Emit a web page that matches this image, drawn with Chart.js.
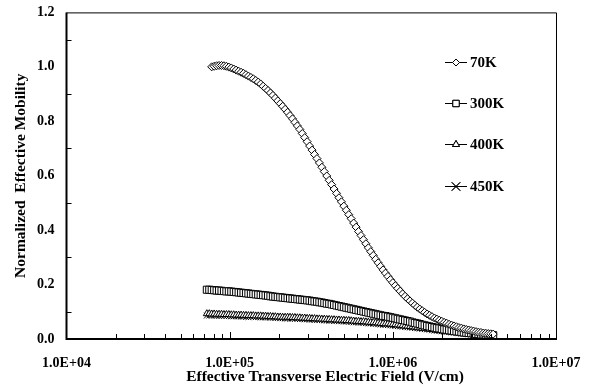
<!DOCTYPE html>
<html>
<head>
<meta charset="utf-8">
<script src="https://cdn.jsdelivr.net/npm/chart.js@4.4.1/dist/chart.umd.min.js"></script>
<style>
  html, body { margin: 0; padding: 0; background: #fff; }
  #wrap { width: 595px; height: 389px; }
</style>
</head>
<body>
<div id="wrap"><canvas id="chart"></canvas></div>
<script>
// effective transverse electric field (V/cm)
const fieldStrength = [
  72440, 74990, 77620, 80350, 83180, 86100, 89130, 92260, 95500, 98860,
  102300, 105900, 109600, 113500, 117500, 121600, 125900, 130300, 134900, 139600,
  144500, 149600, 154900, 160300, 166000, 171800, 177800, 184100, 190500, 197200,
  204200, 211300, 218800, 226500, 234400, 242700, 251200, 260000, 269200, 278600,
  288400, 298500, 309000, 319900, 331100, 342800, 354800, 367300, 380200, 393600,
  407400, 421700, 436500, 451900, 467700, 484200, 501200, 518800, 537000, 555900,
  575400, 595700, 616600, 638300, 660700, 683900, 707900, 732800, 758600, 785200,
  812800, 841400, 871000, 901600, 933300, 966100, 1000000, 1035100, 1071500, 1109200,
  1148200, 1188500, 1230300, 1273500, 1318300, 1364600, 1412500, 1462200, 1513600, 1566800,
  1621800, 1678800, 1737800, 1798900, 1862100, 1927500, 1995300, 2065400, 2138000, 2213100,
  2290900, 2371400, 2454700, 2541000, 2630300, 2722700, 2818400, 2917400, 3020000, 3126100,
  3235900, 3349700, 3467400, 3589200, 3715400, 3845900, 3981100, 4121000
];

// normalized effective mobility
const mob70K = [
  null, null, 1.000, 1.002, 1.004, 1.005, 1.005, 1.004, 1.002, 0.999,
  0.996, 0.992, 0.988, 0.984, 0.980, 0.976, 0.971, 0.966, 0.961, 0.956,
  0.950, 0.944, 0.937, 0.929, 0.921, 0.913, 0.904, 0.895, 0.885, 0.875,
  0.865, 0.855, 0.844, 0.833, 0.821, 0.809, 0.796, 0.783, 0.770, 0.755,
  0.740, 0.725, 0.709, 0.694, 0.678, 0.663, 0.647, 0.631, 0.615, 0.599,
  0.583, 0.567, 0.551, 0.535, 0.519, 0.504, 0.488, 0.473, 0.457, 0.442,
  0.426, 0.411, 0.395, 0.380, 0.365, 0.350, 0.335, 0.321, 0.307, 0.293,
  0.280, 0.267, 0.254, 0.242, 0.230, 0.218, 0.207, 0.196, 0.186, 0.176,
  0.166, 0.157, 0.148, 0.140, 0.132, 0.124, 0.117, 0.110, 0.104, 0.098,
  0.092, 0.087, 0.082, 0.077, 0.073, 0.069, 0.065, 0.061, 0.058, 0.054,
  0.051, 0.048, 0.045, 0.042, 0.040, 0.037, 0.035, 0.033, 0.031, 0.029,
  0.027, 0.025, 0.024, 0.022, 0.021, 0.020, 0.019, 0.018
];
const mob300K = [
  0.181, 0.181, 0.180, 0.179, 0.178, 0.178, 0.177, 0.176, 0.175, 0.175,
  0.174, 0.173, 0.172, 0.171, 0.170, 0.169, 0.168, 0.167, 0.166, 0.165,
  0.164, 0.163, 0.162, 0.161, 0.160, 0.159, 0.157, 0.156, 0.155, 0.154,
  0.153, 0.152, 0.151, 0.150, 0.149, 0.148, 0.147, 0.146, 0.145, 0.144,
  0.143, 0.142, 0.141, 0.139, 0.138, 0.137, 0.135, 0.134, 0.132, 0.130,
  0.129, 0.127, 0.125, 0.123, 0.121, 0.119, 0.117, 0.115, 0.113, 0.111,
  0.109, 0.107, 0.105, 0.103, 0.101, 0.099, 0.097, 0.095, 0.093, 0.091,
  0.089, 0.087, 0.085, 0.084, 0.082, 0.080, 0.078, 0.076, 0.074, 0.072,
  0.070, 0.068, 0.066, 0.064, 0.061, 0.059, 0.057, 0.055, 0.052, 0.050,
  0.048, 0.046, 0.044, 0.042, 0.040, 0.039, 0.037, 0.035, 0.034, 0.032,
  0.031, 0.029, 0.028, 0.027, 0.025, 0.024, 0.023, 0.022, 0.021, 0.020,
  0.019, 0.018, 0.017, 0.017, 0.016, 0.016, 0.015, 0.014
];
const mob400K = [
  0.093, 0.093, 0.092, 0.092, 0.091, 0.091, 0.091, 0.090, 0.090, 0.090,
  0.089, 0.089, 0.088, 0.088, 0.088, 0.087, 0.087, 0.086, 0.086, 0.086,
  0.085, 0.085, 0.085, 0.084, 0.084, 0.083, 0.083, 0.082, 0.082, 0.081,
  0.081, 0.080, 0.080, 0.080, 0.080, 0.079, 0.079, 0.078, 0.078, 0.077,
  0.077, 0.076, 0.076, 0.075, 0.075, 0.074, 0.074, 0.073, 0.073, 0.072,
  0.072, 0.071, 0.071, 0.070, 0.070, 0.069, 0.069, 0.068, 0.068, 0.067,
  0.066, 0.065, 0.065, 0.064, 0.064, 0.063, 0.062, 0.061, 0.061, 0.060,
  0.059, 0.058, 0.057, 0.056, 0.056, 0.055, 0.054, 0.053, 0.052, 0.051,
  0.050, 0.048, 0.047, 0.046, 0.045, 0.044, 0.043, 0.041, 0.040, 0.039,
  0.038, 0.036, 0.035, 0.034, 0.033, 0.031, 0.030, 0.029, 0.028, 0.027,
  0.026, 0.025, 0.024, 0.023, 0.022, 0.021, 0.020, 0.019, 0.018, 0.017,
  0.016, 0.016, 0.015, 0.015, 0.014, 0.014, 0.013, 0.012
];
const mob450K = [
  0.086, 0.086, 0.086, 0.086, 0.085, 0.085, 0.085, 0.085, 0.084, 0.084,
  0.083, 0.083, 0.083, 0.083, 0.082, 0.082, 0.081, 0.081, 0.081, 0.081,
  0.080, 0.080, 0.079, 0.079, 0.079, 0.079, 0.078, 0.078, 0.077, 0.077,
  0.076, 0.076, 0.075, 0.075, 0.075, 0.075, 0.074, 0.074, 0.073, 0.073,
  0.072, 0.072, 0.071, 0.071, 0.070, 0.070, 0.069, 0.069, 0.068, 0.068,
  0.067, 0.067, 0.066, 0.066, 0.065, 0.065, 0.064, 0.064, 0.063, 0.062,
  0.061, 0.061, 0.060, 0.060, 0.059, 0.058, 0.057, 0.057, 0.056, 0.055,
  0.054, 0.053, 0.052, 0.052, 0.051, 0.050, 0.049, 0.048, 0.047, 0.046,
  0.045, 0.044, 0.043, 0.042, 0.041, 0.040, 0.039, 0.038, 0.037, 0.036,
  0.035, 0.034, 0.032, 0.031, 0.030, 0.029, 0.028, 0.027, 0.026, 0.025,
  0.024, 0.023, 0.022, 0.021, 0.020, 0.019, 0.018, 0.017, 0.016, 0.016,
  0.015, 0.015, 0.014, 0.013, 0.012, 0.012, 0.011, 0.010
];

const seriesLabels = ['70K', '300K', '400K', '450K'];
const pointStyles = ['rectRot', 'rect', 'triangle', 'crossRot'];
const pointSizes = [4, 5, 4, 4];
const legendSizes = [3.5, 4.5, 4, 6];
const seriesValues = [mob70K, mob300K, mob400K, mob450K];
const xTitle = 'Effective Transverse Electric Field (V/cm)';

const FONT = "'Liberation Serif', 'Times New Roman', serif";

function pairs(values) {
  const out = [];
  values.forEach((y, i) => {
    if (y !== null) out.push({ x: fieldStrength[i], y });
  });
  return out;
}

// inner ticks, frame, x title and legend drawn on top of the plot
const framePlugin = {
  id: 'frame',
  afterDraw(chart) {
    const ctx = chart.ctx;
    const area = chart.chartArea;
    const xs = chart.scales.x;
    const ys = chart.scales.y;
    ctx.save();
    ctx.strokeStyle = '#000';

    ctx.lineWidth = 1;
    ctx.beginPath();
    ctx.moveTo(area.left, area.top + 0.5);
    ctx.lineTo(area.right + 0.5, area.top + 0.5);
    ctx.lineTo(area.right + 0.5, area.bottom);
    ctx.stroke();

    ctx.lineWidth = 2;
    ctx.beginPath();
    ctx.moveTo(area.left, area.top);
    ctx.lineTo(area.left, area.bottom);
    ctx.lineTo(area.right + 1, area.bottom);
    ctx.stroke();

    ctx.lineWidth = 1;
    ctx.beginPath();
    for (let v = 0.1; v < 1.2; v += 0.2) {
      const py = Math.round(ys.getPixelForValue(v)) + 0.5;
      ctx.moveTo(area.left, py);
      ctx.lineTo(area.left + 5, py);
    }
    for (let d = 4; d < 7; d++) {
      for (let k = 1; k < 10; k++) {
        if (k === 1 && d === 4) continue;
        const px = Math.round(xs.getPixelForValue(k * Math.pow(10, d))) + 0.5;
        ctx.moveTo(px, area.bottom);
        ctx.lineTo(px, area.bottom - (k === 1 ? 7 : 5));
      }
    }
    ctx.stroke();

    // x axis title (sits a little right of the plot centre, as in the original)
    ctx.fillStyle = '#000';
    ctx.font = 'bold 15.5px ' + FONT;
    ctx.textAlign = 'center';
    ctx.textBaseline = 'middle';
    ctx.fillText(xTitle, 325, 377);

    // legend
    const legendY = [62, 103, 144, 186];
    chart.data.datasets.forEach((ds, i) => {
      const y = legendY[i];
      ctx.lineWidth = 1;
      ctx.strokeStyle = '#000';
      ctx.beginPath();
      ctx.moveTo(445, y + 0.5);
      ctx.lineTo(467, y + 0.5);
      ctx.stroke();
      Chart.helpers.drawPoint(ctx, {
        pointStyle: ds.pointStyle,
        radius: legendSizes[i],
        rotation: 0,
        borderWidth: 1
      }, 456, y + 0.5);
      ctx.fillStyle = '#fff';
      ctx.fill();
      ctx.stroke();
      ctx.fillStyle = '#000';
      ctx.font = 'bold 15px ' + FONT;
      ctx.textAlign = 'left';
      ctx.textBaseline = 'middle';
      ctx.fillText(ds.label, 470, y + 1);
    });
    ctx.restore();
  }
};

new Chart(document.getElementById('chart'), {
  type: 'scatter',
  data: {
    datasets: seriesValues.map((vals, i) => ({
      label: seriesLabels[i],
      data: pairs(vals),
      showLine: true,
      borderColor: '#000',
      borderWidth: 1,
      backgroundColor: '#fff',
      pointStyle: pointStyles[i],
      pointRadius: pointSizes[i],
      pointBorderColor: '#000',
      pointBackgroundColor: '#fff',
      pointBorderWidth: 1
    }))
  },
  options: {
    responsive: true,
    maintainAspectRatio: false,
    animation: false,
    devicePixelRatio: 1,
    layout: { padding: { top: 12, right: 39, bottom: 0, left: 0 } },
    plugins: {
      legend: { display: false },
      tooltip: { enabled: false }
    },
    scales: {
      x: {
        type: 'logarithmic',
        min: 1e4,
        max: 1e7,
        grid: { display: false },
        border: { display: false },
        afterFit(scale) { scale.height = 50; },
        ticks: {
          autoSkip: false,
          maxRotation: 0,
          padding: 8,
          color: '#000',
          font: { family: FONT, size: 14, weight: 'bold' },
          callback(value) {
            const exp = Math.log10(value);
            if (Math.abs(exp - Math.round(exp)) > 1e-9) return '';
            return '1.0E+' + String(Math.round(exp)).padStart(2, '0');
          }
        },
        title: { display: false }
      },
      y: {
        min: 0,
        max: 1.2,
        grid: { display: false },
        border: { display: false },
        afterFit(scale) { scale.width = 66.5; },
        ticks: {
          stepSize: 0.2,
          padding: 4,
          color: '#000',
          font: { family: FONT, size: 14, weight: 'bold' },
          callback(value) { return value.toFixed(1); }
        },
        title: {
          display: true,
          text: 'Normalized  Effective Mobility',
          color: '#000',
          font: { family: FONT, size: 15.5, weight: 'bold' },
          padding: { top: 12, bottom: 0 }
        }
      }
    }
  },
  plugins: [framePlugin]
});
</script>
</body>
</html>
